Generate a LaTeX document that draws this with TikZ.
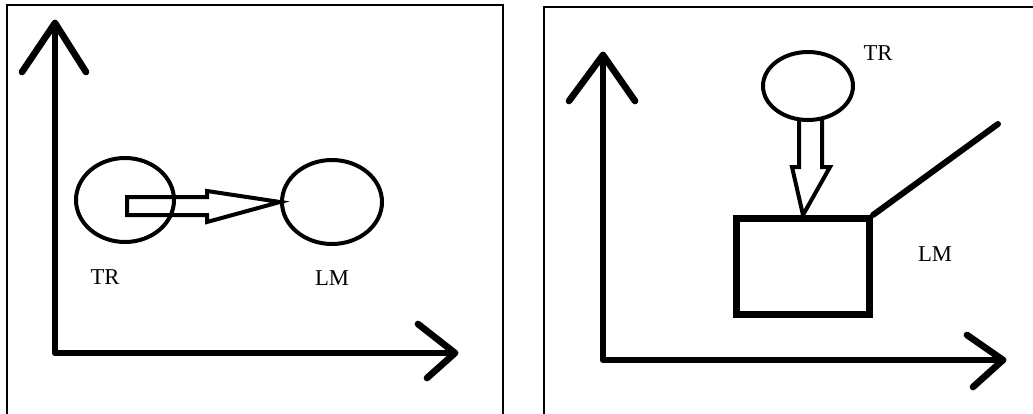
\documentclass[tikz,border=0pt]{standalone}
\usepackage{fontspec}
\setmainfont{Liberation Serif}
\usetikzlibrary{shapes.geometric}
\begin{document}
\begin{tikzpicture}[x=0.75pt,y=-0.75pt,
  frame/.style={draw=black,line width=1.5pt},
  axis/.style={line width=5pt,line cap=round,line join=round},
  oval/.style={draw,ellipse,line width=3pt,inner sep=0pt},
  hollow/.style={draw,line width=3pt,line join=miter},
  lbl/.style={font=\fontsize{17}{20}\selectfont,inner sep=0pt}]
\useasboundingbox (0,0) rectangle (1033,414);
% frames
\draw[frame] (7,420) |- (503,5) -- (503,420);
\draw[frame] (544,420) |- (1040,7);
% ---------- left panel ----------
\coordinate (lo) at (55,353);
\coordinate (ly) at (55,23);
\coordinate (lx) at (455,353);
\draw[axis] (ly) -- (lo) -- (lx);
\draw[axis] (22,72) -- (ly) -- (86,72);
\draw[axis] (418,324) -- (lx) -- (427,378);
\node[oval,minimum width=98pt*0.75,minimum height=84pt*0.75] (tr1) at (125,200) {};
\node[oval,minimum width=100pt*0.75,minimum height=84pt*0.75] (lm1) at (332,202) {};
\draw[hollow] (127,197) -- (207,197) -- (207,191) -- (lm1.west) -- (207,222) -- (207,215) -- (127,215) -- cycle;
\node[lbl] (trl1) at (105,277) {TR};
\node[lbl] (lml1) at (332,278) {LM};
% ---------- right panel ----------
\coordinate (ro) at (603,360);
\coordinate (ry) at (603,55);
\coordinate (rx) at (1003,360);
\draw[axis] (ry) -- (ro) -- (rx);
\draw[axis] (569,101) -- (ry) -- (635,101);
\draw[axis] (967,335) -- (rx) -- (973,387);
\node[oval,minimum width=90pt*0.75,minimum height=68pt*0.75] (tr2) at (808,86) {};
\node[draw,line width=5pt,minimum width=140pt*0.75-5pt,minimum height=103pt*0.75-5pt,inner sep=0pt] (lm2) at (803,266.5) {};
\draw[line width=4.5pt,line cap=round] (lm2.north east) -- (998,124);
\draw[hollow] (tr2.south) ++(-9,-2) -- (799,167) -- (792,167) -- (lm2.north) -- (830,167) -- (822,167) -- (822,118);
\node[lbl] (trl2) at (878,53) {TR};
\node[lbl] (lml2) at (935,254) {LM};
\end{tikzpicture}
\end{document}
